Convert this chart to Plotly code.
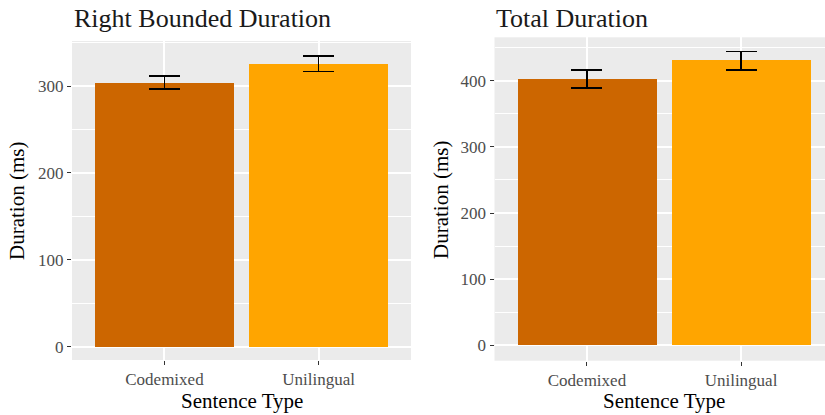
import plotly.graph_objects as go

categories = ["Codemixed", "Unilingual"]
cat_pos = [1, 2]
bar_colors = ["#CC6600", "#FFA500"]

rb_means = [304, 326]
rb_se = [7.6, 9.0]

total_means = [402.5, 430]
total_se = [13.3, 13.8]

panel_titles = ["Right Bounded Duration", "Total Duration"]
x_title = "Sentence Type"
y_title = "Duration (ms)"

FONT = "Liberation Serif"
W, H = 825, 415

fig = go.Figure()
fig.add_trace(go.Bar(x=cat_pos, y=rb_means, width=0.9, marker=dict(color=bar_colors, line=dict(width=0)),
                     error_y=dict(type="data", array=rb_se, color="black", thickness=1.6, width=15.5),
                     xaxis="x", yaxis="y", showlegend=False))
fig.add_trace(go.Bar(x=cat_pos, y=total_means, width=0.9, marker=dict(color=bar_colors, line=dict(width=0)),
                     error_y=dict(type="data", array=total_se, color="black", thickness=1.6, width=15.5),
                     xaxis="x2", yaxis="y2", showlegend=False))

def px_x(p):
    return p / W

def px_y(p):
    return 1 - p / H

common_x = dict(tickvals=cat_pos, ticktext=categories, showgrid=True, gridcolor="white", gridwidth=1.5,
                zeroline=False, ticks="outside", ticklen=4, tickcolor="#333333", tickwidth=1.2,
                tickfont=dict(family=FONT, size=17, color="#4D4D4D"), showline=False)
common_y = dict(showgrid=True, gridcolor="white", gridwidth=1.5, zeroline=False, ticks="outside",
                ticklen=4, tickcolor="#333333", tickwidth=1.2,
                tickfont=dict(family=FONT, size=17, color="#4D4D4D"), showline=False,
                minor=dict(dtick=50, tick0=0, showgrid=True, gridcolor="white", gridwidth=0.7, ticks=""))

fig.update_layout(
    width=W, height=H,
    margin=dict(l=0, r=0, t=0, b=0),
    paper_bgcolor="white",
    plot_bgcolor="#EBEBEB",
    bargap=0,
    xaxis=dict(domain=[px_x(72), px_x(411)], range=[0.4, 2.6], anchor="y", **common_x),
    yaxis=dict(domain=[px_y(360), px_y(41)], range=[-15.5, 352], tickvals=[0, 100, 200, 300], anchor="x", **common_y),
    xaxis2=dict(domain=[px_x(494.5), 1.0], range=[0.4, 2.545], anchor="y2", **common_x),
    yaxis2=dict(domain=[px_y(360.7), px_y(37.3)], range=[-23.2, 465.5], tickvals=[0, 100, 200, 300, 400], anchor="x2", **common_y),
)

ann = []
ann.append(dict(text=panel_titles[0], xref="paper", yref="paper", x=px_x(72), y=px_y(18), xanchor="left", yanchor="middle",
                showarrow=False, font=dict(family=FONT, size=26, color="#1A1A1A")))
ann.append(dict(text=panel_titles[1], xref="paper", yref="paper", x=px_x(494), y=px_y(18), xanchor="left", yanchor="middle",
                showarrow=False, font=dict(family=FONT, size=26, color="#1A1A1A")))
ann.append(dict(text=x_title, xref="x", yref="paper", x=1.5, y=px_y(401), xanchor="center", yanchor="middle",
                showarrow=False, font=dict(family=FONT, size=21, color="black")))
ann.append(dict(text=x_title, xref="x2", yref="paper", x=1.5, y=px_y(401), xanchor="center", yanchor="middle",
                showarrow=False, font=dict(family=FONT, size=21, color="black")))
ann.append(dict(text=y_title, xref="paper", yref="paper", x=px_x(17), y=px_y(201), xanchor="center", yanchor="middle",
                textangle=-90, showarrow=False, font=dict(family=FONT, size=21, color="black")))
ann.append(dict(text=y_title, xref="paper", yref="paper", x=px_x(441), y=px_y(200), xanchor="center", yanchor="middle",
                textangle=-90, showarrow=False, font=dict(family=FONT, size=21, color="black")))
fig.update_layout(annotations=ann)

fig.write_html("out.html", config={"displayModeBar": False},
               post_script="document.body.style.margin='0';document.body.style.overflow='hidden';")
